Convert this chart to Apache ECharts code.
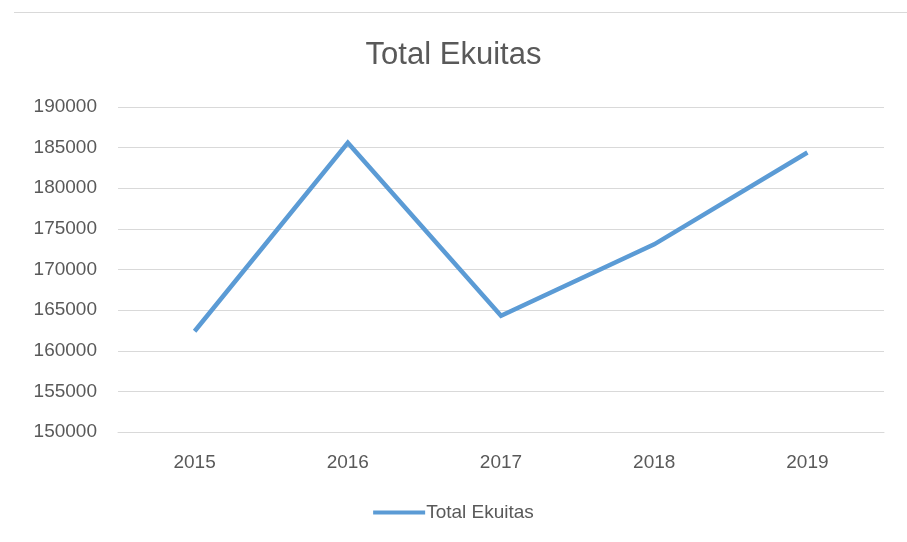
<!DOCTYPE html>
<html style='height: 100%'>
<head>
    <meta charset='utf-8'>
</head>
<body style='height: 100%; margin: 0; background: #fff'>
    <div id='container' style='height: 100%'></div>
    <script type='text/javascript' src='https://cdn.jsdelivr.net/npm/echarts@6/dist/echarts.min.js'></script>
    <script type="text/javascript">
var years = ['2015', '2016', '2017', '2018', '2019'];
var ekuitas = [162400, 185600, 164300, 173100, 184400];
var seriesName = 'Total Ekuitas';

var dom = document.getElementById("container");
var myChart = echarts.init(dom);
var textColor = '#595959';
var option = {
    backgroundColor: '#fff',
    title: {
        text: 'Total Ekuitas',
        left: 'center',
        top: 35,
        textStyle: {
            fontFamily: 'Liberation Sans',
            fontSize: 31,
            fontWeight: 'normal',
            color: textColor
        }
    },
    graphic: [
        {
            type: 'rect',
            shape: {x: 14, y: 12, width: 900, height: 1},
            style: {fill: '#d9d9d9'}
        }
    ],
    legend: {
        data: [seriesName],
        bottom: 15,
        left: 'center',
        icon: 'rect',
        itemWidth: 52,
        itemHeight: 4,
        itemGap: 10,
        textStyle: {
            fontFamily: 'Liberation Sans',
            fontSize: 19,
            color: textColor,
            padding: [0, 0, 0, -4]
        }
    },
    grid: {
        left: 118,
        right: 23,
        top: 107,
        bottom: 110,
        containLabel: false
    },
    xAxis: {
        type: 'category',
        data: years,
        boundaryGap: true,
        axisLine: {lineStyle: {color: '#d9d9d9'}},
        axisTick: {show: false},
        axisLabel: {
            margin: 21,
            fontFamily: 'Liberation Sans',
            fontSize: 19,
            color: textColor
        }
    },
    yAxis: {
        type: 'value',
        min: 150000,
        max: 190000,
        interval: 5000,
        axisLine: {show: false},
        axisTick: {show: false},
        splitLine: {lineStyle: {color: '#d9d9d9', width: 1}},
        axisLabel: {
            margin: 21,
            fontFamily: 'Liberation Sans',
            fontSize: 19,
            color: textColor,
            formatter: function (v) { return String(v); }
        }
    },
    series: [
        {
            name: seriesName,
            type: 'line',
            data: ekuitas,
            symbol: 'none',
            lineStyle: {width: 4.5, color: '#5b9bd5', join: 'miter'},
            itemStyle: {color: '#5b9bd5'}
        }
    ]
};
myChart.setOption(option, true);
    </script>
</body>
</html>
